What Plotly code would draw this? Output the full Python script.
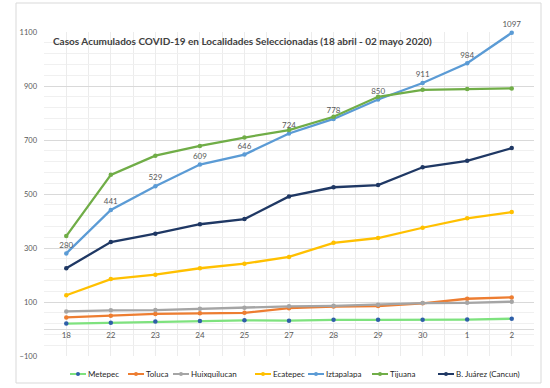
import plotly.graph_objects as go

categories = ["18", "22", "23", "24", "25", "27", "28", "29", "30", "1", "2"]
metepec = [20, 23, 28, 30, 32, 31, 34, 34, 34, 35, 38]
toluca = [43, 49, 56, 58, 60, 77, 83, 85, 95, 112, 117]
huixquilucan = [65, 69, 70, 75, 79, 84, 86, 90, 96, 97, 101]
ecatepec = [125, 185, 201, 225, 242, 267, 319, 337, 375, 410, 433]
iztapalapa = [280, 441, 529, 609, 646, 724, 778, 850, 911, 984, 1097]
tijuana = [344, 571, 642, 678, 709, 737, 786, 860, 886, 889, 891]
bjuarez = [225, 322, 353, 388, 407, 491, 525, 533, 599, 623, 670]

series = [
    ("Metepec", metepec, "#7ee27e", "#2e5fa8"),
    ("Toluca", toluca, "#ed7d31", "#ed7d31"),
    ("Huixquilucan", huixquilucan, "#a5a5a5", "#a5a5a5"),
    ("Ecatepec", ecatepec, "#ffc000", "#ffc000"),
    ("Iztapalapa", iztapalapa, "#5b9bd5", "#5b9bd5"),
    ("Tijuana", tijuana, "#70ad47", "#70ad47"),
    ("B. Juárez (Cancun)", bjuarez, "#1f3864", "#1f3864"),
]

W, H = 550, 388
ML, MR, MT, MB = 44, 16, 32, 32
PW, PH = W - ML - MR, H - MT - MB


def px2x(px):
    return (px - ML) / PW


def py2y(py):
    return (H - MB - py) / PH


xs = list(range(len(categories)))
fig = go.Figure()
for name, vals, lc, mc in series:
    if name == "Iztapalapa":
        kw = dict(mode="lines+markers+text", text=[str(v) for v in vals],
                  textposition="top center",
                  textfont=dict(size=8, color="#595959", family="Lato"))
    else:
        kw = dict(mode="lines+markers")
    fig.add_trace(go.Scatter(
        x=xs, y=vals, name=name, showlegend=False,
        line=dict(color=lc, width=2.3),
        marker=dict(color=mc, size=4.5),
        cliponaxis=False,
        **kw))

fig.update_layout(
    width=W, height=H,
    margin=dict(l=ML, r=MR, t=MT, b=MB, autoexpand=False),
    paper_bgcolor="white", plot_bgcolor="white",
    font=dict(family="Lato", color="#595959"),
    showlegend=False,
    xaxis=dict(range=[-0.5, 10.5], tickmode="array", tickvals=xs, ticktext=categories,
               showgrid=True, gridcolor="#ececec", gridwidth=1,
               minor=dict(dtick=0.5, tick0=0, showgrid=True, gridcolor="#ececec"),
               anchor="free", position=100 / 1200, showline=False,
               zeroline=False, ticks="", tickfont=dict(size=8, color="#595959")),
    yaxis=dict(range=[-100, 1100], tick0=-100, dtick=200,
               showgrid=True, gridcolor="#d9d9d9", gridwidth=1,
               minor=dict(dtick=40, tick0=-100, showgrid=True, gridcolor="#f0f0f0"),
               zeroline=True, zerolinecolor="#d9d9d9", zerolinewidth=1,
               ticks="", tickfont=dict(size=7.5, color="#595959"), ticklabelstandoff=6),
)

fig.add_annotation(
    text="<b>Casos Acumulados COVID-19 en Localidades Seleccionadas (18 abril - 02 mayo 2020)</b>",
    xref="paper", yref="paper", x=px2x(51), y=py2y(41), xanchor="left", yanchor="middle",
    showarrow=False, font=dict(size=10, color="#404040", family="Lato"))

# outer chart border
fig.add_shape(type="rect", xref="paper", yref="paper",
              x0=px2x(16), x1=px2x(541), y0=py2y(383), y1=py2y(3),
              line=dict(color="#d9d9d9", width=1), layer="below")

# manual legend (single row like the reference)
legend_starts = [70, 128, 173, 255, 308, 372, 438]
ly = py2y(374)
for (name, vals, lc, mc), sx in zip(series, legend_starts):
    fig.add_shape(type="line", xref="paper", yref="paper",
                  x0=px2x(sx), x1=px2x(sx + 16), y0=ly, y1=ly,
                  line=dict(color=lc, width=2))
    cx, cy = sx + 8, 374
    fig.add_shape(type="circle", xref="paper", yref="paper",
                  x0=px2x(cx - 2), x1=px2x(cx + 2), y0=py2y(cy + 2), y1=py2y(cy - 2),
                  line=dict(color=mc, width=0), fillcolor=mc)
    fig.add_annotation(text=name, xref="paper", yref="paper",
                       x=px2x(sx + 17), y=ly, xanchor="left", yanchor="middle",
                       showarrow=False, borderpad=0,
                       font=dict(size=8, color="#262626", family="Lato"))

fig.write_html("out.html", config={"displayModeBar": False},
               post_script="document.body.style.margin='0';document.body.style.overflow='hidden';")
